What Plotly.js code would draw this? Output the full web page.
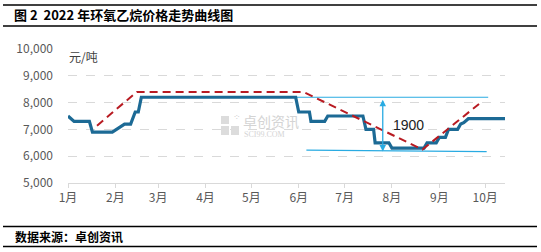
<!DOCTYPE html>
<html>
<head>
<meta charset="utf-8">
<script src="https://cdn.plot.ly/plotly-3.0.1.min.js"></script>
<style>html,body{margin:0;padding:0;background:#fff;}#chart{width:541px;height:252px;}</style>
</head>
<body>
<div id="chart"></div>
<script>
// Blue price series (change points)
const priceDates = ['2022-01-01','2022-01-05','2022-01-15','2022-01-17','2022-01-30','2022-02-07','2022-02-11','2022-02-14','2022-02-16','2022-02-18','2022-05-30','2022-06-01','2022-06-08','2022-06-09','2022-06-18','2022-06-20','2022-07-13','2022-07-15','2022-07-20','2022-07-21','2022-07-30','2022-08-01','2022-08-22','2022-08-24','2022-08-30','2022-09-01','2022-09-05','2022-09-07','2022-09-13','2022-09-15','2022-09-17','2022-09-20','2022-10-14'];
const priceValues = [7500,7300,7300,6900,6900,7200,7200,7650,7650,8200,8200,7650,7650,7300,7300,7500,7500,7000,7000,6500,6500,6300,6300,6500,6500,6700,6700,7000,7000,7200,7250,7400,7400];
// Red dashed trend line
const trendDates = ['2022-01-20','2022-02-15','2022-06-04','2022-08-21','2022-09-27'];
const trendValues = [7140,8400,8400,6250,7950];
// Cyan reference lines
const topRefDates = ['2022-05-30','2022-10-03'];
const topRefValues = [8200,8200];
const lowRefDates = ['2022-06-06','2022-10-02'];
const lowRefValues = [6230,6170];
const arrowDate = '2022-07-26';
const arrowValues = [8160,6180];
const spreadLabel = '1900';
const spreadLabelDate = '2022-08-12';
const spreadLabelValue = 7170;
const yTickVals = [5000,6000,7000,8000,9000,10000];
const yTickText = ['5,000','6,000','7,000','8,000','9,000','10,000'];

const cjk = '"Noto Sans CJK SC", "DejaVu Sans", sans-serif';
const cyan = '#29ABE2';

const traces = [
  {x: topRefDates, y: topRefValues, mode: 'lines', line: {color: cyan, width: 1.2}, hoverinfo: 'skip'},
  {x: lowRefDates, y: lowRefValues, mode: 'lines', line: {color: cyan, width: 1.2}, hoverinfo: 'skip'},
  {x: priceDates, y: priceValues, mode: 'lines', line: {color: '#1C6A95', width: 3.2}},
  {x: trendDates, y: trendValues, mode: 'lines', line: {color: '#B81B22', width: 2, dash: '8px,5px'}}
];

function px(x){return (x-68)/437;}
function py(y){return (183-y)/134;}

const shapes = [
  {type:'line', xref:'paper', yref:'paper', x0:px(3), x1:px(537), y0:py(5), y1:py(5), line:{color:'#000', width:1.6}},
  {type:'line', xref:'paper', yref:'paper', x0:px(3), x1:px(537), y0:py(26), y1:py(26), line:{color:'#000', width:1.6}},
  {type:'line', xref:'paper', yref:'paper', x0:px(3), x1:px(537), y0:py(226.5), y1:py(226.5), line:{color:'#000', width:1.6}},
  {type:'line', xref:'paper', yref:'paper', x0:px(3), x1:px(537), y0:py(246.5), y1:py(246.5), line:{color:'#000', width:1.6}},
  // watermark logo blocks
  {type:'rect', xref:'paper', yref:'paper', x0:px(221), x1:px(229), y0:py(124), y1:py(116), fillcolor:'#dcdcdc', line:{width:0}},
  {type:'rect', xref:'paper', yref:'paper', x0:px(221), x1:px(229), y0:py(135), y1:py(126), fillcolor:'#dcdcdc', line:{width:0}},
  {type:'rect', xref:'paper', yref:'paper', x0:px(231), x1:px(239), y0:py(135), y1:py(126), fillcolor:'#dcdcdc', line:{width:0}}
];

const annotations = [
  {xref:'paper', yref:'paper', x:px(67), y:py(56), xanchor:'left', yanchor:'middle', text:'元/吨', showarrow:false, font:{family:cjk, size:12, color:'#404040'}},
  {xref:'paper', yref:'paper', x:px(241), y:py(121), xanchor:'left', yanchor:'middle', text:'卓创资讯', showarrow:false, font:{family:cjk, size:14, color:'#d4d4d4'}},
  {xref:'paper', yref:'paper', x:px(231), y:py(124), xanchor:'left', yanchor:'bottom', text:'⁘', showarrow:false, font:{family:'DejaVu Sans', size:9, color:'#d4d4d4'}},
  {xref:'paper', yref:'paper', x:px(242), y:py(134), xanchor:'left', yanchor:'middle', text:'SCI99.COM', showarrow:false, font:{family:'"Liberation Serif", serif', size:8, color:'#d4d4d4'}},
  {xref:'x', yref:'y', x:arrowDate, y:arrowValues[1], axref:'x', ayref:'y', ax:arrowDate, ay:arrowValues[0], text:'', showarrow:true, arrowside:'end+start', arrowhead:2, arrowsize:1, arrowwidth:1.3, arrowcolor:cyan, standoff:0, startstandoff:0},
  {xref:'x', yref:'y', x:spreadLabelDate, y:spreadLabelValue, text:spreadLabel, showarrow:false, font:{family:'"Liberation Sans", Arial, sans-serif', size:14, color:'#222'}},
  {xref:'paper', yref:'paper', x:px(13), y:py(236.5), xanchor:'left', yanchor:'middle', text:'<b>数据来源：卓创资讯</b>', showarrow:false, font:{family:cjk, size:12, color:'#000'}}
];

const layout = {
  width: 541, height: 252,
  margin: {l:68, r:36, t:49, b:69},
  paper_bgcolor:'#fff', plot_bgcolor:'#fff',
  showlegend:false,
  title: {text:'<b>图 2  2022 年环氧乙烷价格走势曲线图</b>', xref:'container', yref:'container', x:14/541, xanchor:'left', y:1-15.5/252, yanchor:'middle', font:{family:cjk, size:13, color:'#000'}},
  xaxis: {type:'date', range:['2022-01-01','2022-10-14'], dtick:'M1', tick0:'2022-01-01', tickformat:'%-m月',
          showgrid:false, zeroline:false, showline:true, linecolor:'#d9d9d9', linewidth:1,
          ticks:'outside', ticklen:4, tickcolor:'#d9d9d9', tickfont:{family:cjk, size:12, color:'#595959'}},
  yaxis: {range:[5000,10000], tickvals:yTickVals, ticktext:yTickText, showgrid:true, gridcolor:'#d9d9d9', griddash:'dash', gridwidth:1,
          zeroline:false, showline:false, ticks:'', ticklabelstandoff:14, tickfont:{family:cjk, size:12, color:'#595959'}},
  shapes: shapes,
  annotations: annotations
};

Plotly.newPlot('chart', traces, layout, {displayModeBar:false, staticPlot:true});
</script>
</body>
</html>
